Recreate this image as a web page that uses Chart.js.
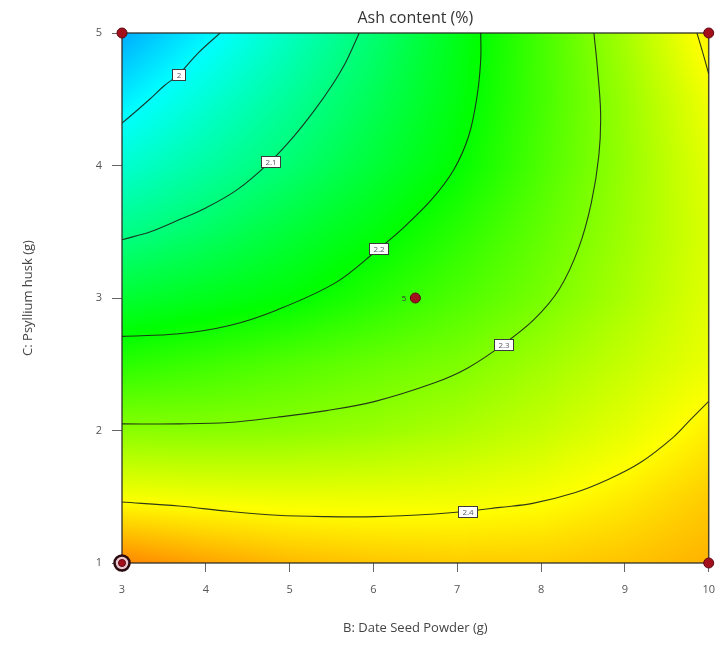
<!DOCTYPE html>
<html>
<head>
<meta charset="utf-8">
<script src="https://cdn.jsdelivr.net/npm/chart.js@4.4.0/dist/chart.umd.min.js"></script>
<style>
  html, body { margin: 0; padding: 0; background: #fff; }
  #wrap { width: 726px; height: 645px; }
</style>
</head>
<body>
<div id="wrap"><canvas id="grafico" width="726" height="645"></canvas></div>
<script>
// eixos do modelo (B e C)
const dateSeedPowder = [3, 4, 5, 6, 7, 8, 9, 10];
const psylliumHusk = [1, 1.5, 2, 2.5, 3, 3.5, 4, 4.5, 5];

// teor de cinzas (%) por linha de C (de C=1 ate C=5), colunas seguem dateSeedPowder
const ashGrid = [
  [2.495, 2.472, 2.455, 2.445, 2.440, 2.440, 2.447, 2.460],
  [2.393, 2.388, 2.385, 2.385, 2.387, 2.395, 2.415, 2.440],
  [2.308, 2.306, 2.310, 2.320, 2.335, 2.355, 2.380, 2.412],
  [2.232, 2.248, 2.265, 2.281, 2.298, 2.325, 2.355, 2.385],
  [2.160, 2.179, 2.197, 2.228, 2.260, 2.293, 2.333, 2.376],
  [2.093, 2.122, 2.156, 2.190, 2.231, 2.276, 2.323, 2.372],
  [2.036, 2.073, 2.112, 2.156, 2.200, 2.260, 2.318, 2.378],
  [1.985, 2.033, 2.081, 2.133, 2.188, 2.253, 2.320, 2.390],
  [1.935, 1.990, 2.050, 2.112, 2.181, 2.253, 2.330, 2.412]
];

// curvas de nivel [B, C]
const contour20 = [[3.0, 4.32], [3.15, 4.40], [3.33, 4.50], [3.50, 4.60], [3.68, 4.69], [3.91, 4.85], [4.17, 5.0]];
const contour21 = [[3.0, 3.44], [3.34, 3.50], [3.68, 3.59], [4.0, 3.68], [4.38, 3.82], [4.77, 4.03], [5.05, 4.22], [5.30, 4.42], [5.50, 4.60], [5.67, 4.78], [5.83, 5.0]];
const contour22 = [[3.0, 2.71], [3.68, 2.73], [4.27, 2.79], [4.85, 2.91], [5.56, 3.12], [6.06, 3.37], [6.34, 3.52], [6.69, 3.74], [6.96, 3.97], [7.14, 4.23], [7.24, 4.54], [7.28, 4.80], [7.28, 5.0]];
const contour23 = [[3.0, 2.05], [3.68, 2.05], [4.27, 2.06], [4.85, 2.10], [5.44, 2.15], [6.02, 2.22], [6.73, 2.36], [7.12, 2.47], [7.55, 2.65], [7.92, 2.84], [8.22, 3.07], [8.45, 3.38], [8.60, 3.72], [8.69, 4.08], [8.71, 4.40], [8.67, 4.75], [8.63, 5.0]];
const contour24 = [[3.0, 1.46], [3.68, 1.43], [4.27, 1.39], [4.85, 1.36], [5.44, 1.35], [6.02, 1.35], [6.73, 1.37], [7.12, 1.39], [7.51, 1.42], [7.90, 1.45], [8.40, 1.53], [8.80, 1.63], [9.19, 1.76], [9.58, 1.95], [9.78, 2.08], [10.0, 2.22]];
const contour24b = [[9.86, 5.0], [9.93, 4.85], [10.0, 4.69]];

const contourLevels = ['2', '2.1', '2.2', '2.3', '2.4'];
const labelIndex = [4, 5, 5, 8, 7];

// pontos do planejamento
const designB = [3, 10, 10, 3, 6.5];
const designC = [5, 5, 1, 1, 3];
const designReps = [1, 1, 1, 2, 5];

// escala de cores azul -> ciano -> verde -> amarelo -> vermelho
const escala = [
  [1.80, [0, 0, 255]],
  [2.00, [0, 255, 255]],
  [2.20, [0, 255, 0]],
  [2.40, [255, 255, 0]],
  [2.60, [255, 0, 0]]
];

function corPara(v) {
  if (v <= escala[0][0]) return escala[0][1];
  for (let i = 0; i < escala.length - 1; i++) {
    const [v0, c0] = escala[i], [v1, c1] = escala[i + 1];
    if (v <= v1) {
      const t = (v - v0) / (v1 - v0);
      return [0, 1, 2].map(k => Math.round(c0[k] + (c1[k] - c0[k]) * t));
    }
  }
  return escala[escala.length - 1][1];
}

function achaIndice(arr, v) {
  let i = 0;
  while (i < arr.length - 2 && v > arr[i + 1]) i++;
  return i;
}

function valorNoPonto(b, c) {
  const i = achaIndice(dateSeedPowder, b);
  const j = achaIndice(psylliumHusk, c);
  let tx = (b - dateSeedPowder[i]) / (dateSeedPowder[i + 1] - dateSeedPowder[i]);
  let ty = (c - psylliumHusk[j]) / (psylliumHusk[j + 1] - psylliumHusk[j]);
  tx = Math.min(1, Math.max(0, tx));
  ty = Math.min(1, Math.max(0, ty));
  const v00 = ashGrid[j][i], v10 = ashGrid[j][i + 1];
  const v01 = ashGrid[j + 1][i], v11 = ashGrid[j + 1][i + 1];
  return v00 * (1 - tx) * (1 - ty) + v10 * tx * (1 - ty) + v01 * (1 - tx) * ty + v11 * tx * ty;
}

// fundo colorido + moldura da area do grafico
const mapaCor = {
  id: 'mapaCor',
  beforeDatasetsDraw(chart) {
    const { ctx, chartArea: a, scales: { x, y } } = chart;
    const left = Math.round(a.left), top = Math.round(a.top);
    const w = Math.round(a.right) - left, h = Math.round(a.bottom) - top;
    const img = ctx.createImageData(w, h);
    for (let j = 0; j < h; j++) {
      const c = y.getValueForPixel(top + j + 0.5);
      for (let i = 0; i < w; i++) {
        const b = x.getValueForPixel(left + i + 0.5);
        const cor = corPara(valorNoPonto(b, c));
        const k = (j * w + i) * 4;
        img.data[k] = cor[0];
        img.data[k + 1] = cor[1];
        img.data[k + 2] = cor[2];
        img.data[k + 3] = 255;
      }
    }
    ctx.putImageData(img, left, top);

    ctx.save();
    ctx.strokeStyle = 'rgba(45,45,40,0.85)';
    ctx.lineWidth = 1.5;
    ctx.strokeRect(a.left, a.top, a.right - a.left, a.bottom - a.top);
    ctx.restore();
  }
};

// rotulos das curvas, titulo e numero de repeticoes
const rotulos = {
  id: 'rotulos',
  afterDatasetsDraw(chart) {
    const { ctx, chartArea: a, scales: { x, y } } = chart;
    ctx.save();
    ctx.font = '8px "Open Sans"';
    ctx.textAlign = 'center';
    ctx.textBaseline = 'middle';
    chart.data.datasets.forEach(ds => {
      if (ds.rotulo === undefined) return;
      const p = ds.data[ds.idxRotulo];
      const px = x.getPixelForValue(p.x), py = y.getPixelForValue(p.y);
      const w = Math.round(ctx.measureText(ds.rotulo).width + 8), h = 11;
      const bx = Math.round(px - w / 2), by = Math.round(py - h / 2);
      ctx.fillStyle = '#ffffff';
      ctx.fillRect(bx, by, w, h);
      ctx.strokeStyle = '#3a3a3a';
      ctx.lineWidth = 1;
      ctx.strokeRect(bx + 0.5, by + 0.5, w, h);
      ctx.fillStyle = '#555a66';
      ctx.fillText(ds.rotulo, bx + w / 2 + 0.5, by + h / 2 + 1);
    });

    ctx.font = '8px "Open Sans"';
    ctx.fillStyle = '#333';
    designB.forEach((b, i) => {
      if (designReps[i] > 2) {
        ctx.textAlign = 'right';
        ctx.fillText(String(designReps[i]), x.getPixelForValue(b) - 9, y.getPixelForValue(designC[i]) + 1);
      }
    });

    ctx.font = '16px "Open Sans"';
    ctx.fillStyle = '#333';
    ctx.textAlign = 'center';
    ctx.fillText('Ash content (%)', (a.left + a.right) / 2, 18);
    ctx.restore();
  }
};

const pontos = designB.map((b, i) => ({ x: b, y: designC[i] }));
const comAnel = pontos.filter((p, i) => designReps[i] === 2);

function curva(arr, nivel, idx) {
  const ds = {
    type: 'line',
    data: arr.map(([b, c]) => ({ x: b, y: c })),
    borderColor: 'rgba(25,35,25,0.9)',
    borderWidth: 1.1,
    pointRadius: 0,
    tension: 0.35,
    fill: false
  };
  if (nivel !== undefined) {
    ds.rotulo = nivel;
    ds.idxRotulo = idx;
  }
  return ds;
}

const contornos = [contour20, contour21, contour22, contour23, contour24].map((arr, i) =>
  curva(arr, contourLevels[i], labelIndex[i])
);

const fonte = { family: '"Open Sans", "Noto Sans", sans-serif' };

new Chart(document.getElementById('grafico'), {
  type: 'scatter',
  data: {
    datasets: [
      {
        data: pontos,
        backgroundColor: '#a3101c',
        borderColor: '#5e0610',
        borderWidth: 1,
        pointRadius: designReps.map(r => (r === 2 ? 3.5 : 5)),
        clip: false
      },
      {
        data: comAnel,
        backgroundColor: '#e9c6cf',
        borderColor: '#2b0a10',
        borderWidth: 2.5,
        pointRadius: 7.5,
        clip: false
      },
      ...contornos,
      curva(contour24b)
    ]
  },
  plugins: [mapaCor, rotulos],
  options: {
    responsive: false,
    animation: false,
    layout: { padding: { top: 33, right: 7, left: 0, bottom: 0 } },
    plugins: {
      legend: { display: false },
      tooltip: { enabled: false },
      title: { display: false }
    },
    scales: {
      x: {
        type: 'linear', min: 3, max: 10,
        ticks: { stepSize: 1, color: '#555', font: { ...fonte, size: 11 }, padding: 11 },
        grid: { drawOnChartArea: false, tickLength: 9, color: '#666' },
        border: { display: false },
        title: {
          display: true, text: 'B: Date Seed Powder (g)', color: '#444',
          font: { ...fonte, size: 13 }, padding: { top: 0, bottom: 9 }
        },
        afterFit: s => { s.height = 82; }
      },
      y: {
        type: 'linear', min: 1, max: 5,
        ticks: { stepSize: 1, color: '#555', font: { ...fonte, size: 11 }, padding: 10 },
        grid: { drawOnChartArea: false, tickLength: 10, color: '#666' },
        border: { display: false },
        title: {
          display: true, text: 'C: Psyllium husk (g)', color: '#444',
          font: { ...fonte, size: 13 }, padding: { top: 20, bottom: 0 }
        },
        afterFit: s => { s.width = 122; }
      }
    }
  }
});
</script>
</body>
</html>
